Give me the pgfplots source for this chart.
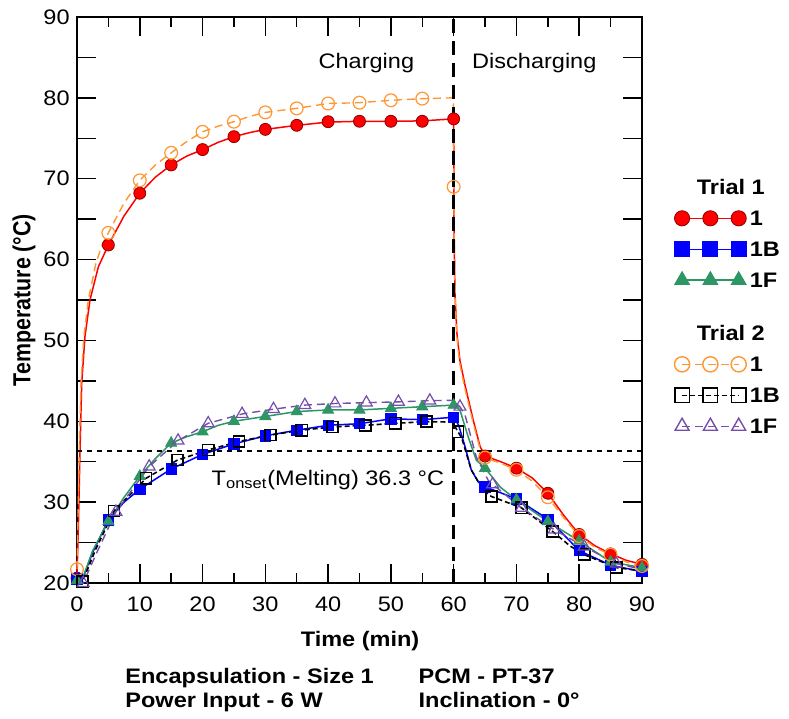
\documentclass[border=0pt]{standalone}
\usepackage{fontspec}
\setmainfont{Liberation Sans}[FakeStretch=1.12]
\newfontfamily\plainfont{Liberation Sans}
\usepackage{graphicx}
\usepackage{pgfplots}
\pgfplotsset{compat=1.18}
\definecolor{cred}{RGB}{255,0,0}
\definecolor{cblue}{RGB}{0,0,255}
\definecolor{cgreen}{RGB}{46,150,100}
\definecolor{corange}{RGB}{255,150,50}
\definecolor{cpurple}{RGB}{117,77,170}
\begin{document}
\fontsize{10.5}{12.6}\selectfont
\begin{tikzpicture}[font=\fontsize{10.5}{12.6}\selectfont]
\begin{axis}[
 scale only axis, width=282.5pt, height=283pt,
 xmin=0, xmax=90, ymin=20, ymax=90,
 clip=false,
 xtick={0,10,...,90}, minor xtick={5,15,...,85},
 ytick={20,25,...,90}, yticklabels={20,,30,,40,,50,,60,,70,,80,,90},
 tick align=inside, major tick length=9.5pt, minor tick length=5pt,
 axis line style={line width=0.85pt},
 every tick/.style={black, line width=0.75pt},
 every minor tick/.style={black, line width=0.75pt},
 /pgf/number format/assume math mode=true,
 xticklabel style={yshift=-3pt},
 xlabel={\bfseries Time (min)},
 ylabel={\plainfont\fontsize{10.7}{12.8}\selectfont\bfseries\scalebox{1}[1.15]{Temperature (°C)}},
 every axis x label/.style={at={(axis description cs:0.501,-0.1125)}, anchor=base},
 every axis y label/.style={at={(axis description cs:-0.094,0.5)}, anchor=center, rotate=90},
 legend cell align=left,
 legend style={draw=none, fill=none, at={(1.0568,0.7235)}, anchor=north west, inner sep=0pt, row sep=2pt, font=\bfseries\fontsize{10.5}{12}\selectfont, nodes={inner sep=1.75pt}},
 legend image code/.code={\draw[#1] plot coordinates {(0pt,0pt) (14.15pt,0pt) (28.3pt,0pt)};},
]
% ---------- Legend ----------
\addlegendimage{empty legend}\addlegendentry{\strut\hspace*{-26.5pt}Trial 1}
\addlegendimage{cred, line width=0.75pt, mark=*, mark size=3.8pt, mark options={fill=cred, draw=cred!55!black, line width=0.4pt, solid}}\addlegendentry{\strut 1}
\addlegendimage{cblue, line width=0.75pt, mark=square*, mark size=3.6pt, mark options={fill=cblue, draw=cblue, solid}}\addlegendentry{\strut 1B}
\addlegendimage{cgreen, line width=0.75pt, mark=triangle*, mark size=4pt, mark options={fill=cgreen, draw=cgreen, solid}}\addlegendentry{\strut 1F}
\addlegendimage{empty legend}\addlegendentry{\rule{0pt}{19.5pt}\hspace*{-26.5pt}Trial 2}
\addlegendimage{corange, line width=0.7pt, dash pattern=on 4pt off 2.5pt, mark=o, mark size=3.8pt, mark options={draw=corange, fill=none, solid}}\addlegendentry{\strut 1}
\addlegendimage{black, line width=0.7pt, dash pattern=on 2.5pt off 1.5pt, mark=square, mark size=3.6pt, mark options={draw=black, fill=none, solid}}\addlegendentry{\strut 1B}
\addlegendimage{cpurple, line width=0.7pt, dash pattern=on 4pt off 2.5pt, mark=triangle, mark size=4pt, mark options={draw=cpurple, fill=none, solid}}\addlegendentry{\strut 1F}

% ---------- Trial 1 : 1 (red) ----------
\addplot[cred, line width=0.75pt, forget plot] coordinates {
(0,20.6)(0.25,28)(0.48,36.4)(0.75,44.7)(1.27,50.5)(2.07,55.0)(3.4,59.1)(5,61.8)(7.5,65.4)(10,68.2)(12.5,70.2)(15,71.7)(17.5,72.8)(20,73.6)(22.5,74.5)(25,75.2)(27.5,75.7)(30,76.1)(35,76.6)(40,77.0)(45,77.1)(50,77.1)(55,77.15)(60,77.4)(60.05,65)(60.2,56)(60.5,51)(61,47.5)(61.8,44.5)(63.1,40.2)(64.2,36.9)(65,35.7)(67.5,35.0)(70,34.2)(72.5,33.0)(75,31.1)(77.5,28.4)(80,26.0)(82.5,24.6)(85,23.6)(87.5,22.8)(90,22.3)};
% ---------- Trial 1 : 1B (blue) ----------
\addplot[cblue, line width=0.75pt, forget plot] coordinates {
(0,20.5)(1,20.7)(2.5,23.8)(5,27.8)(7.5,30)(10,31.6)(15,34.1)(20,35.9)(25,37.2)(30,38.2)(35,38.9)(40,39.5)(45,39.7)(50,40.3)(55,40.2)(60,40.5)(60.8,39.5)(61.8,36.9)(62.8,34.0)(63.9,32.5)(65,31.9)(70,30.4)(75,27.9)(77.5,26)(80,24.0)(85,22.2)(90,21.4)};
% ---------- Trial 1 : 1F (green) ----------
\addplot[cgreen, line width=0.75pt, forget plot] coordinates {
(0,20.3)(1,20.8)(2.5,24)(5,27.6)(7.5,30.6)(10,33.2)(12.5,35.4)(15,37.3)(17.5,38.1)(20,38.7)(22.5,39.5)(25,40.0)(30,40.6)(35,41.2)(40,41.4)(45,41.4)(50,41.6)(55,41.8)(60,42.0)(61,41.4)(62.3,38.1)(63.6,35.2)(65,34.2)(67.5,31.8)(70,30.3)(75,27.6)(80,25.2)(85,22.6)(90,21.9)};
% markers trial 1
\addplot[only marks, mark=*, mark size=3pt, mark options={fill=cred, draw=cred!55!black, line width=0.4pt}, forget plot] coordinates {
(0,20.6)(5,61.8)(10,68.2)(15,71.7)(20,73.6)(25,75.2)(30,76.1)(35,76.6)(40,77.05)(45,77.1)(50,77.1)(55,77.1)(60,77.4)(65,35.7)(70,34.2)(75,31.1)(80,26.0)(85,23.6)(90,22.3)};
\addplot[only marks, mark=square*, mark size=2.6pt, mark options={fill=cblue, draw=cblue}, forget plot] coordinates {
(0,20.5)(5,27.8)(10,31.6)(15,34.1)(20,35.9)(25,37.2)(30,38.2)(35,38.9)(40,39.5)(45,39.7)(50,40.3)(55,40.2)(60,40.5)(65,31.9)(70,30.4)(75,27.9)(80,24.0)(85,22.2)(90,21.4)};
\addplot[only marks, mark=triangle*, mark size=3.2pt, mark options={fill=cgreen, draw=cgreen}, forget plot] coordinates {
(0,20.3)(5,27.6)(10,33.2)(15,37.3)(20,38.7)(25,40.0)(30,40.6)(35,41.2)(40,41.4)(45,41.4)(50,41.6)(55,41.8)(60,42.0)(65,34.2)(70,30.3)(75,27.6)(80,25.2)(85,22.6)(90,21.9)};

% ---------- Trial 2 : 1 (orange) ----------
\addplot[corange, line width=0.7pt, dash pattern=on 4pt off 2.5pt, forget plot] coordinates {
(0,21.7)(0.2,30)(0.4,38)(0.65,45)(1.1,50.5)(1.8,55)(3,59.5)(4,61.8)(5,63.3)(7.5,67)(10,69.8)(12.5,71.7)(15,73.2)(17.5,74.6)(20,75.8)(22.5,76.5)(25,77.05)(27.5,77.7)(30,78.2)(35,78.7)(40,79.3)(45,79.4)(50,79.7)(55,79.9)(59.95,80.0)(60,69.0)(60.2,56)(60.5,50.5)(61,47)(61.8,44)(63.1,39.8)(64.2,36.6)(65,35.5)(67.5,34.8)(70,34.0)(72.5,32.6)(75,30.6)(77.5,28.1)(80,25.8)(82.5,24.4)(85,23.5)(87.5,22.6)(90,22.1)};
% ---------- Trial 2 : 1B (black) ----------
\addplot[black, line width=0.8pt, dash pattern=on 2.5pt off 1.5pt, forget plot] coordinates {
(0,20.3)(0.9,20.2)(3,24.2)(5.9,28.9)(11,32.95)(16,35.2)(20.9,36.45)(25.8,37.5)(30.8,38.3)(35.8,38.9)(40.7,39.3)(45.9,39.5)(50.7,39.75)(55.7,39.95)(59.8,39.9)(60.7,38.7)(61.3,37.9)(62.8,34.0)(64.7,31.5)(66,30.7)(70.8,29.3)(75.8,26.35)(78.5,24.6)(80.8,23.5)(85.9,21.9)(90,21.5)};
% ---------- Trial 2 : 1F (purple) ----------
\addplot[cpurple, line width=0.7pt, dash pattern=on 4pt off 2.5pt, forget plot] coordinates {
(0,20.2)(1,20.0)(3,23.5)(6.2,28.8)(11.5,34.4)(16.1,37.6)(20.9,39.75)(26.3,40.9)(31.3,41.5)(36.3,42.0)(41.1,42.2)(46.1,42.3)(51.2,42.4)(56.2,42.55)(59.9,42.6)(61,41.8)(61.8,40.8)(63.6,35.6)(65.5,32.7)(66.2,32.2)(70.8,29.3)(76,26.6)(80.8,24.5)(85.9,22.4)(90,21.7)};
% markers trial 2
\addplot[only marks, mark=o, mark size=3.2pt, mark options={draw=corange, fill=none, line width=0.6pt}, forget plot] coordinates {
(0,21.7)(5,63.3)(10,69.8)(15,73.2)(20,75.8)(25,77.05)(30,78.2)(35,78.7)(40,79.3)(45,79.4)(50,79.7)(55,79.9)(60,69.0)(65,35.5)(70,34.0)(75,30.6)(80,25.8)(85,23.5)(90,22.1)};
\addplot[only marks, mark=square, mark size=2.8pt, mark options={draw=black, fill=none, line width=0.8pt}, forget plot] coordinates {
(0.9,20.2)(5.9,28.9)(11,32.95)(16,35.2)(20.9,36.45)(25.8,37.5)(30.8,38.3)(35.8,38.9)(40.7,39.3)(45.9,39.5)(50.7,39.75)(55.7,39.95)(60.7,38.7)(66,30.7)(70.8,29.3)(75.8,26.35)(80.8,23.5)(85.9,21.9)};
\addplot[only marks, mark=triangle, mark size=3.4pt, mark options={draw=cpurple, fill=none, line width=0.6pt}, forget plot] coordinates {
(1,20.0)(6.2,28.8)(11.5,34.4)(16.1,37.6)(20.9,39.75)(26.3,40.9)(31.3,41.5)(36.3,42.0)(41.1,42.2)(46.1,42.3)(51.2,42.4)(56.2,42.55)(61,41.8)(66.2,32.2)(70.8,29.3)(76,26.6)(80.8,24.5)(85.9,22.4)};

% ---------- reference lines ----------
\addplot[black, line width=1.2pt, dash pattern=on 7pt off 4pt, forget plot] coordinates {(60,20)(60,90)};
\addplot[black, line width=1.1pt, dash pattern=on 2.5pt off 2.5pt, forget plot] coordinates {(0,36.3)(90,36.3)};

% ---------- annotations ----------
\node[anchor=base] at (axis cs:46.1,83.66) {Charging};
\node[anchor=base] at (axis cs:72.85,83.66) {Discharging};
\node[anchor=base west, inner sep=0pt] at (axis cs:21.4,32.1) {T\textsubscript{onset}(Melting) 36.3 °C};
\node[anchor=base west, inner sep=0pt, font=\bfseries\fontsize{10.5}{12.6}\selectfont] at (rel axis cs:0.085,-0.178) {Encapsulation - Size 1};
\node[anchor=base west, inner sep=0pt, font=\bfseries\fontsize{10.5}{12.6}\selectfont] at (rel axis cs:0.085,-0.2197) {Power Input - 6 W};
\node[anchor=base west, inner sep=0pt, font=\bfseries\fontsize{10.5}{12.6}\selectfont] at (rel axis cs:0.604,-0.178) {PCM - PT-37};
\node[anchor=base west, inner sep=0pt, font=\bfseries\fontsize{10.5}{12.6}\selectfont] at (rel axis cs:0.604,-0.2197) {Inclination - 0°};
\end{axis}
\path ([shift={(-38.5pt,-68pt)}]current axis.south west) rectangle ([shift={(73.5pt,8.5pt)}]current axis.north east);
\end{tikzpicture}
\end{document}
